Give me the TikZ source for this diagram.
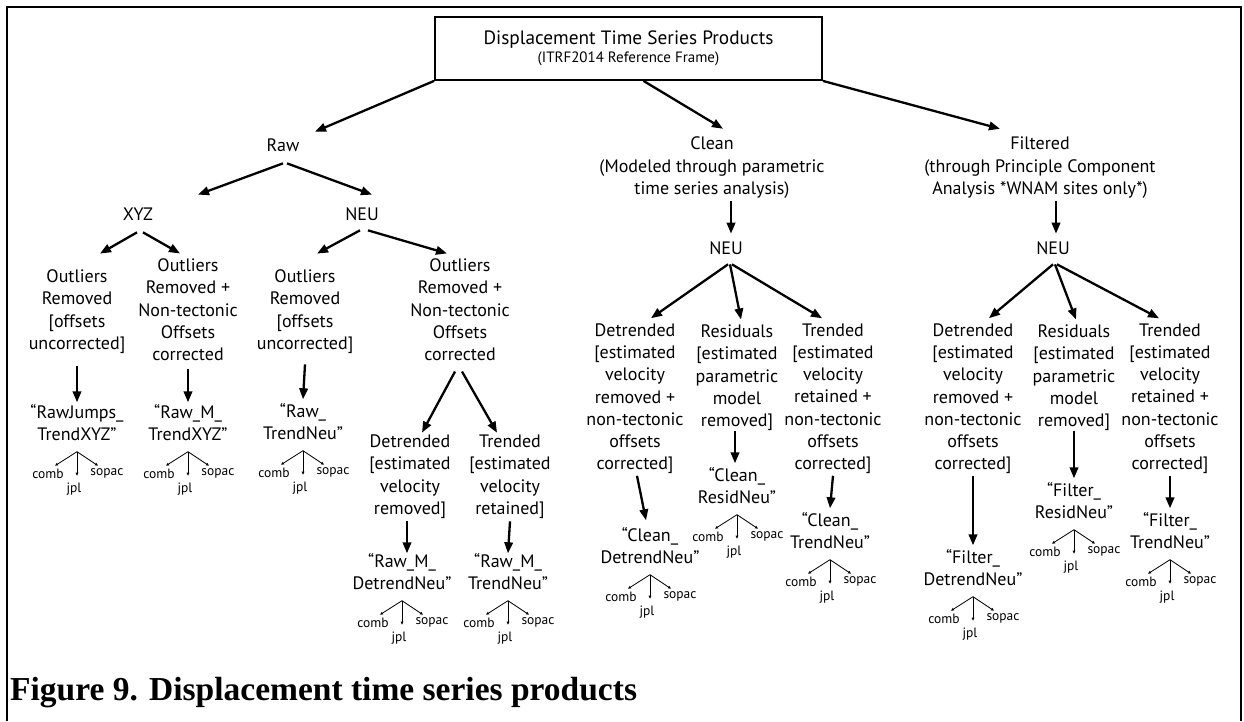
\documentclass[tikz,border=0pt]{standalone}
\usepackage{fontspec}
\setmainfont{PT Sans}
\newfontfamily\capfont{Liberation Serif}
\usetikzlibrary{arrows.meta,calc}
\tikzset{
  txt/.style={font=\fontsize{18}{22.3}\selectfont, align=center, inner sep=0pt,
    execute at begin node=\strut, execute at end node=\strut},
  sm/.style={font=\fontsize{13.5}{15}\selectfont, inner sep=0pt},
  arr/.style={line width=2.3pt, -{Triangle[length=11pt,width=8.5pt]}},
  tarr/.style={line width=0.8pt, -{Triangle[length=3pt,width=2.6pt]}},
  frame/.style={line width=2.4pt},
}
% y axis points down: (dx,dy) with dy>0 goes down
\newcommand{\mtree}[1]{%
  \coordinate (#1-a) at ($(#1.south)+(0,4)$);
  \node[sm] (#1-c) at ($(#1-a)+(-29,22)$) {comb};
  \node[sm] (#1-s) at ($(#1-a)+(30,22)$) {sopac};
  \node[sm] (#1-j) at ($(#1-a)+(-3,37)$) {jpl};
  \draw[tarr] (#1-a) -- ($(#1-a)+(-22,14)$);
  \draw[tarr] (#1-a) -- ($(#1-a)+(21,14)$);
  \draw[tarr] (#1-a) -- ($(#1-a)+(0,24)$);
}
\begin{document}
\begin{tikzpicture}[x=1pt,y=-1pt]
\useasboundingbox (0,0) rectangle (1244,721);
% outer frame
\draw[frame] (7,721) -- (7,7) -- (1241,7) -- (1241,721);
% top box
\node[draw, line width=1.8pt, minimum width=387, minimum height=63, inner sep=0pt, align=center] (top) at (628.5,48.5)
  {\fontsize{19.3}{21}\selectfont Displacement Time Series Products\\[3pt]\fontsize{15}{17}\selectfont (ITRF2014 Reference Frame)};
% level 1
\node[txt] (raw) at (283,147) {Raw};
\node[txt] (clean) at (712,169) {Clean\\(Modeled through parametric\\time series analysis)};
\node[txt] (filt) at (1040,169) {Filtered\\(through Principle Component\\Analysis *WNAM sites only*)};
\draw[arr] (top.south west) -- ($(raw.north)+(32,-4)$);
\draw[arr] ($(top.south)+(15,0)$) -- ($(clean.north)+(11,-8)$);
\draw[arr] (top.south east) -- ($(filt.north)+(-40,-8)$);
% Raw branch
\node[txt] (xyz) at (138,216) {XYZ};
\node[txt] (neu) at (362,216) {NEU};
\draw[arr] ($(raw.south)+(0,5)$) -- ($(xyz.north)+(60,-10)$);
\draw[arr] ($(raw.south)+(4,5)$) -- ($(neu.north)+(10,-10)$);
\node[txt] (o1) at (77,313) {Outliers\\Removed\\{[}offsets\\uncorrected{]}};
\node[txt] (o2) at (188,313) {Outliers\\Removed +\\Non-tectonic\\Offsets\\corrected};
\node[txt] (o3) at (305,313) {Outliers\\Removed\\{[}offsets\\uncorrected{]}};
\node[txt] (o4) at (460,313) {Outliers\\Removed +\\Non-tectonic\\Offsets\\corrected};
\draw[arr] ($(xyz.south)+(-1,5)$) -- ($(o1.north)+(23,-16)$);
\draw[arr] ($(xyz.south)+(5,5)$) -- ($(o2.north)+(-8,-5)$);
\draw[arr] ($(neu.south)+(-2,3)$) -- ($(o3.north)+(12,-16)$);
\draw[arr] ($(neu.south)+(6,3)$) -- ($(o4.north)+(-13,-5)$);
\node[txt] (n1) at (77,426) {``RawJumps\_\\TrendXYZ''};
\node[txt] (n2) at (188,426) {``Raw\_M\_\\TrendXYZ''};
\node[txt] (n3) at (303,425) {``Raw\_\\TrendNeu''};
\draw[arr] ($(o1.south)+(0,10)$) -- ($(n1.north)+(0,-2)$);
\draw[arr] ($(o2.south)+(0,1)$) -- ($(n2.north)+(0,-2)$);
\draw[arr] ($(o3.south)+(0,8)$) -- ($(n3.north)+(0,-4)$);
\mtree{n1}\mtree{n2}\mtree{n3}
\node[txt] (d4) at (410,478) {Detrended\\{[}estimated\\velocity\\removed{]}};
\node[txt] (t4) at (510,478) {Trended\\{[}estimated\\velocity\\retained{]}};
\draw[arr] ($(o4.south)+(-5,4)$) -- ($(d4.north)+(12,-2)$);
\draw[arr] ($(o4.south)+(2,4)$) -- ($(t4.north)+(-13,-2)$);
\node[txt] (n4) at (402,575) {``Raw\_M\_\\DetrendNeu''};
\node[txt] (n5) at (508,575) {``Raw\_M\_\\TrendNeu''};
\draw[arr] ($(d4.south)+(-3,0)$) -- ($(n4.north)+(5,0)$);
\draw[arr] (t4.south) -- (n5.north);
\mtree{n4}\mtree{n5}
% Clean branch
\node[txt] (cneu) at (726,250) {NEU};
\draw[arr] ($(clean.south)+(19,0)$) -- ($(cneu.north)+(5,-5)$);
\node[txt] (cd) at (635,400) {Detrended\\{[}estimated\\velocity\\removed +\\non-tectonic\\offsets\\corrected{]}};
\node[txt] (cr) at (737,379) {Residuals\\{[}estimated\\parametric\\model\\removed{]}};
\node[txt] (ct) at (833,400) {Trended\\{[}estimated\\velocity\\retained +\\non-tectonic\\offsets\\corrected{]}};
\draw[arr] ($(cneu.south)+(2,3)$) -- ($(cd.north)+(16,-5)$);
\draw[arr] ($(cneu.south)+(4,3)$) -- ($(cr.north)+(4,-5)$);
\draw[arr] ($(cneu.south)+(6,3)$) -- ($(ct.north)+(-11,-5)$);
\node[txt] (n6) at (650,549) {``Clean\_\\DetrendNeu''};
\node[txt] (n7) at (737,489) {``Clean\_\\ResidNeu''};
\node[txt] (n8) at (830,534) {``Clean\_\\TrendNeu''};
\draw[arr] ($(cd.south)+(2,-1)$) -- ($(n6.north)+(-4,-7)$);
\draw[arr] ($(cr.south)+(-2,-3)$) -- ($(n7.north)+(-2,-4)$);
\draw[arr] ($(ct.south)+(0,-1)$) -- ($(n8.north)+(0,-4)$);
\mtree{n6}\mtree{n7}\mtree{n8}
% Filtered branch
\node[txt] (fneu) at (1053,250) {NEU};
\draw[arr] ($(filt.south)+(16,0)$) -- ($(fneu.north)+(3,-5)$);
\node[txt] (fd) at (973,400) {Detrended\\{[}estimated\\velocity\\removed +\\non-tectonic\\offsets\\corrected{]}};
\node[txt] (fr) at (1074,379) {Residuals\\{[}estimated\\parametric\\model\\removed{]}};
\node[txt] (ft) at (1170,400) {Trended\\{[}estimated\\velocity\\retained +\\non-tectonic\\offsets\\corrected{]}};
\draw[arr] ($(fneu.south)+(0,3)$) -- ($(fd.north)+(16,-5)$);
\draw[arr] ($(fneu.south)+(2,3)$) -- ($(fr.north)+(2,-5)$);
\draw[arr] ($(fneu.south)+(4,3)$) -- ($(ft.north)+(-11,-5)$);
\node[txt] (n9) at (973,571) {``Filter\_\\DetrendNeu''};
\node[txt] (n10) at (1074,504) {``Filter\_\\ResidNeu''};
\node[txt] (n11) at (1170,534) {``Filter\_\\TrendNeu''};
\draw[arr] ($(fd.south)+(0,-1)$) -- ($(n9.north)+(0,-4)$);
\draw[arr] ($(fr.south)+(0,-3)$) -- ($(n10.north)+(0,-4)$);
\draw[arr] ($(ft.south)+(0,-1)$) -- ($(n11.north)+(0,-4)$);
\mtree{n9}\mtree{n10}\mtree{n11}
% caption
\node[anchor=base west, inner sep=0pt, font=\capfont\bfseries\fontsize{33.5}{36}\selectfont] (cap) at (10,700) {Figure 9. Displacement time series products};
\end{tikzpicture}
\end{document}
